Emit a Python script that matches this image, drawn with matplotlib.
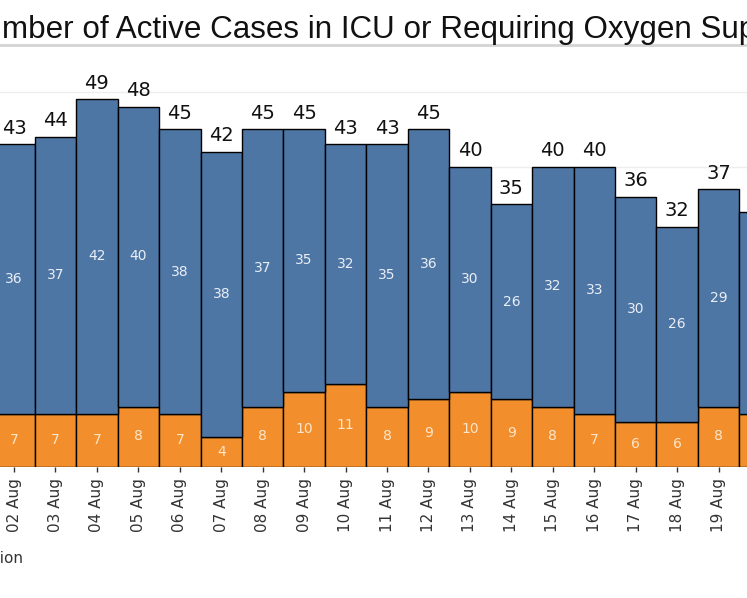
import matplotlib.pyplot as plt
from matplotlib.lines import Line2D

# Data (visible window 02 Aug - 20 Aug)
dates = ["02 Aug", "03 Aug", "04 Aug", "05 Aug", "06 Aug", "07 Aug", "08 Aug",
         "09 Aug", "10 Aug", "11 Aug", "12 Aug", "13 Aug", "14 Aug", "15 Aug",
         "16 Aug", "17 Aug", "18 Aug", "19 Aug", "20 Aug"]
icu = [7, 7, 7, 8, 7, 4, 8, 10, 11, 8, 9, 10, 9, 8, 7, 6, 6, 8, 7]
oxygen = [36, 37, 42, 40, 38, 38, 37, 35, 32, 35, 36, 30, 26, 32, 33, 30, 26, 29, 27]
totals = [a + b for a, b in zip(icu, oxygen)]

blue = "#4e76a5"
orange = "#f28e2b"

W, H = 747, 598
fig = plt.figure(figsize=(W / 100, H / 100), dpi=100)

# axes deliberately runs past the figure edges (cropped view)
left_px, right_px = -6.7, 780.8
bottom_px = 466.5
ax = fig.add_axes([left_px / W, (H - bottom_px) / H,
                   (right_px - left_px) / W, 52 * 7.5 / H])

x = list(range(len(dates)))
ax.bar(x, icu, width=1.0, color=orange, edgecolor="black", linewidth=1, zorder=2)
ax.bar(x, oxygen, width=1.0, bottom=icu, color=blue, edgecolor="black",
       linewidth=1, zorder=2)

# labels of the last bar fall outside the visible window, so skip them
for i in x[:-1]:
    ax.annotate(str(totals[i]), (i, totals[i]), xytext=(0, 7.5),
                textcoords="offset points", ha="center", va="baseline",
                fontsize=14, color="#111111")
    ax.text(i, icu[i] + oxygen[i] / 2, str(oxygen[i]), ha="center", va="center",
            fontsize=10, color="#e9eef6")
    ax.text(i, icu[i] / 2, str(icu[i]), ha="center", va="center",
            fontsize=10, color="#fde6cc")

ax.set_xlim(-0.5, len(dates) - 0.5)
ax.set_ylim(0, 52)
ax.set_yticks([10, 20, 30, 40, 50])
ax.yaxis.grid(True, color="#eeeeee", linewidth=1, zorder=0)
ax.set_axisbelow(True)
ax.tick_params(axis="y", left=False, labelleft=False)
ax.set_xticks(x)
ax.set_xticklabels(dates[:-1] + [""], rotation=90, fontsize=11, color="#333333")
ax.tick_params(axis="x", length=3.5, width=1, color="#333333", pad=5)
for s in ax.spines.values():
    s.set_visible(False)

# title and divider
fig.text(-38 / W, (H - 38) / H, "Number of Active Cases in ICU or Requiring Oxygen Supplementation",
         ha="left", va="baseline", fontsize=22.6, family="Liberation Sans", color="#111111")
fig.add_artist(Line2D([0, 1], [(H - 45) / H] * 2, transform=fig.transFigure,
                      color="#d4d4d4", linewidth=2))

# legend (mostly outside the visible window)
fig.text(23 / W, (H - 558) / H, "Requiring Oxygen Supplementation", ha="right",
         va="center", fontsize=11, color="#333333")

fig.savefig("out.png", dpi=100)
